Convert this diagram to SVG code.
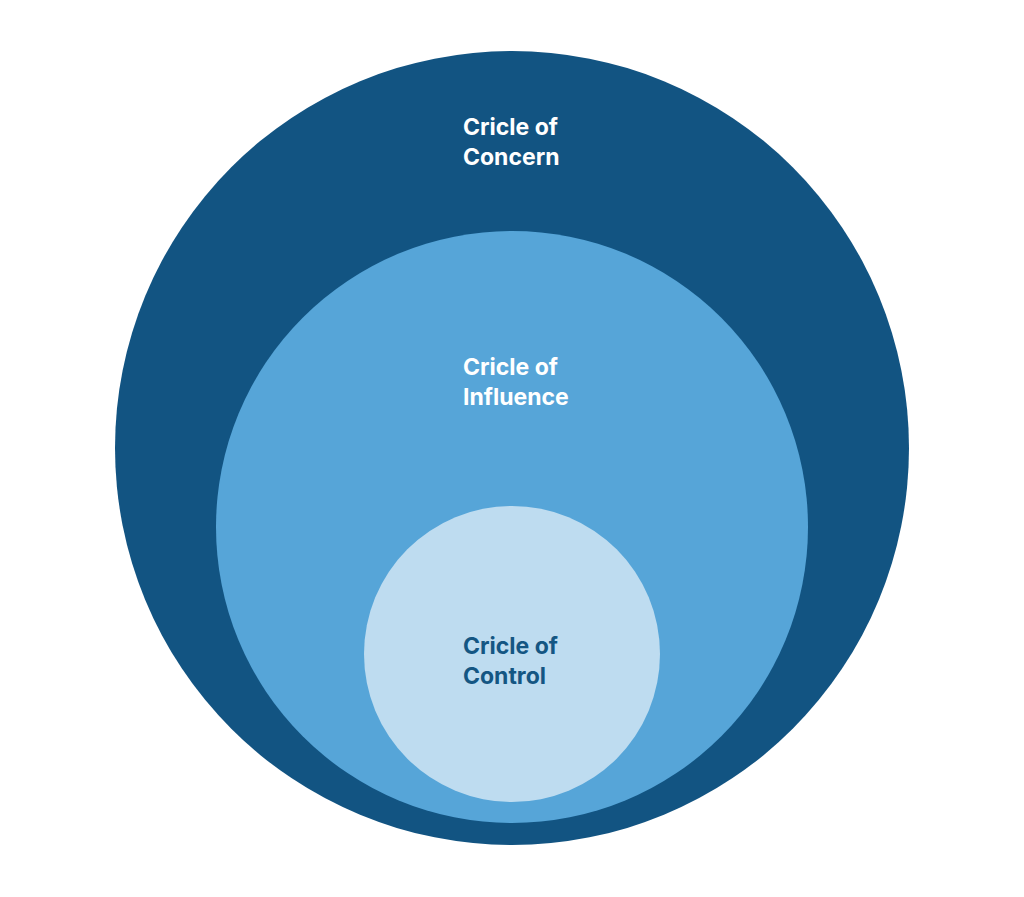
<svg xmlns="http://www.w3.org/2000/svg" width="1024" height="897" viewBox="0 0 1024 897">
<style>
text{font-family:Inter,"Liberation Sans",sans-serif;font-weight:700;font-size:23px}
.w{fill:#ffffff}.d{fill:#145683}
</style>
<rect width="1024" height="897" fill="#ffffff"/>
<g id="concern"><circle cx="512" cy="448" r="397" fill="#125482"/>
<text class="w" x="463" y="135">Cricle of</text><text class="w" x="463" y="165">Concern</text></g>
<g id="influence"><circle cx="512" cy="527" r="296" fill="#56a5d8"/>
<text class="w" x="463" y="375">Cricle of</text><text class="w" x="463" y="405">Influence</text></g>
<g id="control"><circle cx="512" cy="654" r="148" fill="#bedcf0"/>
<text class="d" x="463" y="654">Cricle of</text><text class="d" x="463" y="684">Control</text></g>
<g id="connectors"/>
</svg>
